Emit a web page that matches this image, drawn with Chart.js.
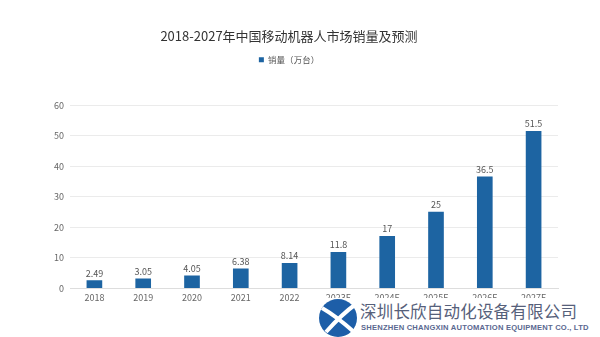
<!DOCTYPE html>
<html>
<head>
<meta charset="utf-8">
<script src="https://cdn.jsdelivr.net/npm/chart.js@4"></script>
<style>
  html, body { margin: 0; padding: 0; background: #fff; }
  #wrap { position: relative; width: 600px; height: 337px; overflow: hidden; }
  canvas { display: block; }
  #wm { position: absolute; left: 318px; top: 298px; width: 282px; height: 39px; background: #fff; }
  #wm svg { position: absolute; left: 0; top: 0; }
  #wm .cn { position: absolute; left: 42px; top: 3px; font-family: "Noto Sans CJK SC"; font-size: 16.5px; color: #56607a; letter-spacing: 0.2px; white-space: nowrap; line-height: 20px; }
  #wm .en { position: absolute; left: 43px; top: 25px; font-family: "Liberation Sans Narrow", "Liberation Sans"; font-weight: bold; font-size: 7.6px; color: #5a6890; white-space: nowrap; letter-spacing: 0.2px; }
</style>
</head>
<body>
<div id="wrap">
  <canvas id="c" width="600" height="337"></canvas>
  <div id="wm">
    <svg width="42" height="39" viewBox="0 0 42 39">
      <circle cx="20" cy="20" r="19" fill="#1d5ea8"/>
      <path d="M4 10 Q18 18 36 34" stroke="#fff" stroke-width="4" fill="none"/>
      <path d="M38 6 Q24 16 8 34" stroke="#fff" stroke-width="4" fill="none"/>
    </svg>
    <div class="cn">深圳长欣自动化设备有限公司</div>
    <div class="en">SHENZHEN CHANGXIN AUTOMATION EQUIPMENT CO., LTD</div>
  </div>
</div>
<script>
const categories = ["2018", "2019", "2020", "2021", "2022", "2023E", "2024E", "2025E", "2026E", "2027E"];
const salesValues = [2.49, 3.05, 4.05, 6.38, 8.14, 11.8, 17, 25, 36.5, 51.5];
const valueLabels = ["2.49", "3.05", "4.05", "6.38", "8.14", "11.8", "17", "25", "36.5", "51.5"];
const yTicks = [0, 10, 20, 30, 40, 50, 60];
const seriesName = "销量（万台）";
const chartTitle = "2018-2027年中国移动机器人市场销量及预测";

const FONT = "'Noto Sans CJK SC', 'Liberation Sans', sans-serif";

const valueLabelPlugin = {
  id: 'valueLabels',
  afterDatasetsDraw(chart) {
    const ctx = chart.ctx;
    const meta = chart.getDatasetMeta(0);
    ctx.save();
    ctx.font = "9px " + FONT;
    ctx.fillStyle = "#555";
    ctx.textAlign = "center";
    ctx.textBaseline = "bottom";
    meta.data.forEach((bar, i) => {
      ctx.fillText(valueLabels[i], bar.x, bar.y - 3);
    });
    ctx.restore();
  }
};

new Chart(document.getElementById('c'), {
  type: 'bar',
  data: {
    labels: categories,
    datasets: [{
      label: seriesName,
      data: salesValues,
      backgroundColor: '#1d64a2',
      borderWidth: 0,
      barThickness: 15
    }]
  },
  options: {
    responsive: false,
    animation: false,
    devicePixelRatio: 1,
    layout: { padding: { left: 20, right: 42, top: 0, bottom: 30 } },
    plugins: {
      title: {
        display: true,
        text: chartTitle,
        color: '#333',
        font: { family: FONT, size: 13, weight: 'normal' },
        padding: { top: 28, bottom: 4 }
      },
      subtitle: {
        display: true,
        text: '',
        weight: 500,
        font: { size: 1 },
        padding: { top: 0, bottom: 30 }
      },
      legend: {
        display: true,
        position: 'top',
        labels: {
          boxWidth: 5,
          boxHeight: 5,
          padding: 8,
          color: '#555',
          font: { family: FONT, size: 8.5 }
        }
      },
      tooltip: { enabled: false }
    },
    scales: {
      x: {
        grid: { display: false, drawTicks: false },
        border: { display: true, color: '#ddd' },
        ticks: { color: '#666', font: { family: FONT, size: 9 }, padding: 4, maxRotation: 0, autoSkip: false }
      },
      y: {
        min: 0,
        max: 60,
        afterBuildTicks(axis) { axis.ticks = yTicks.map(v => ({ value: v })); },
        afterFit(axis) { axis.width = 50; },
        grid: { color: '#ebebeb', drawTicks: false },
        border: { display: false },
        ticks: { color: '#666', font: { family: FONT, size: 9 }, padding: 6 }
      }
    }
  },
  plugins: [valueLabelPlugin]
});
</script>
</body>
</html>
